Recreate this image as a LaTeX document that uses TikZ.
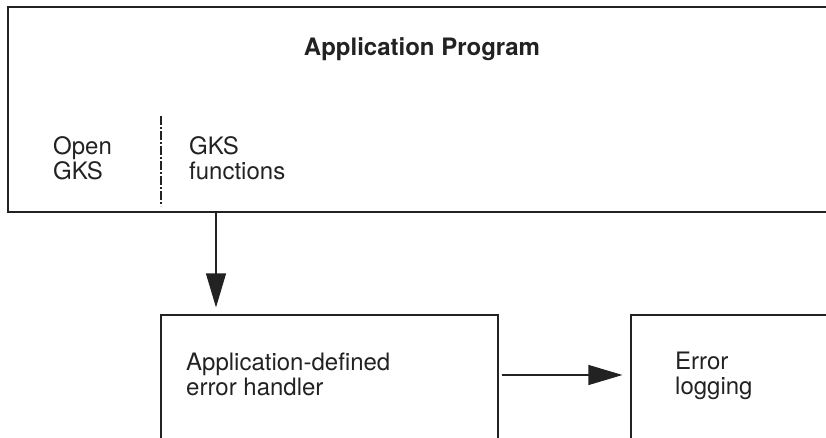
\documentclass[tikz,border=0pt]{standalone}
\usepackage{fontspec}
\setmainfont{TeX Gyre Heros}
\usetikzlibrary{arrows.meta}
\definecolor{ink}{HTML}{222222}
\tikzset{
  box/.style={draw=ink, line width=1.2pt, rectangle, inner sep=0pt},
  label/.style={anchor=north west, inner sep=0pt, align=left, text=ink,
    font=\fontsize{24}{25}\selectfont},
  flow/.style={draw=ink, line width=1.2pt,
    -{Triangle[length=34pt, width=20pt]}},
  divider/.style={draw=ink, line width=1.1pt,
    dash pattern=on 9pt off 2pt on 2pt off 2pt}
}
\begin{document}
\begin{tikzpicture}[x=1pt, y=-1pt]
  \useasboundingbox (0,0) rectangle (826,438);
  % main program block (runs past the right edge)
  \node[box, minimum width=832pt, minimum height=205pt] (app) at (424,109.5) {};
  \node[anchor=north, inner sep=0pt, text=ink,
    font=\fontsize{24}{26}\selectfont\bfseries] (title) at (422,37) {Application Program};
  \node[label] (open) at (53,136) {Open\\GKS};
  \node[label] (funcs) at (189,136) {GKS\\functions};
  \coordinate (divtop) at (161,116);
  \coordinate (divbot) at (161,206);
  \draw[divider] (divtop) -- (divbot);

  % handler and logging blocks (run past the bottom edge)
  \node[box, minimum width=337pt, minimum height=135pt] (handler) at (329.5,382.5) {};
  \node[label] (handlertext) at (186,353) {Application-defined\\error handler};
  \node[box, minimum width=209pt, minimum height=135pt] (logger) at (735.5,382.5) {};
  \node[label] (loggertext) at (675,352) {Error\\logging};

  % connectors
  \coordinate (downx) at (216,0);
  \coordinate (righty) at (0,375);
  \draw[flow, shorten >=7pt] (app.south -| downx) -- (handler.north -| downx);
  \draw[flow, shorten <=3pt, shorten >=8pt] (handler.east |- righty) -- (logger.west |- righty);
\end{tikzpicture}
\end{document}
